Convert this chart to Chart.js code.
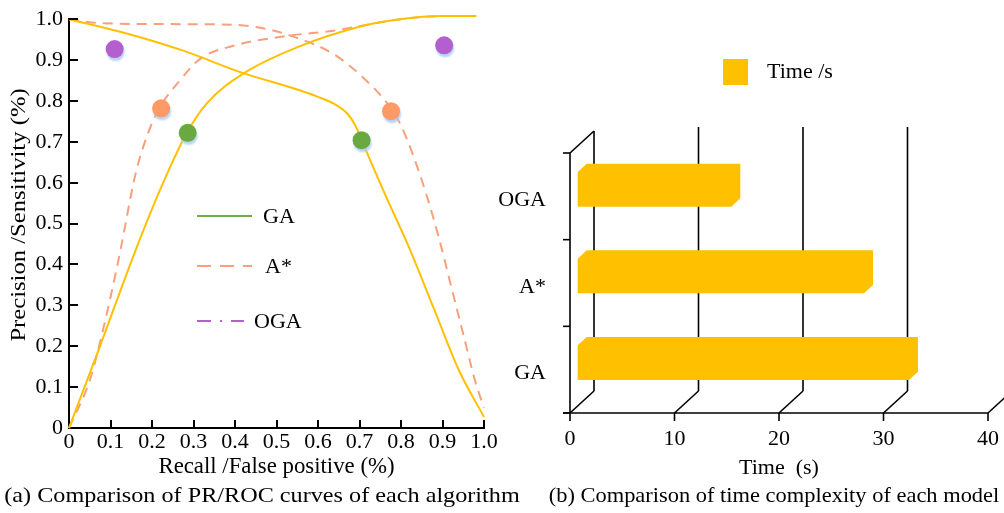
<!DOCTYPE html>
<html><head><meta charset="utf-8">
<script src="https://cdn.jsdelivr.net/npm/chart.js@4/dist/chart.umd.min.js"></script>
<style>
html,body{margin:0;padding:0;background:#fff;width:1004px;height:513px;overflow:hidden;position:relative;}
#c1{position:absolute;left:0;top:0;}
#c2{position:absolute;left:480px;top:0;}
</style></head><body>
<canvas id="c1" width="530" height="513"></canvas>
<canvas id="c2" width="534" height="513"></canvas>
<script>
// ---------- data: left chart (PR / ROC curves) ----------
const gaPrX  = [0, 0.15, 0.275, 0.42, 0.55, 0.6, 0.64, 0.67, 0.69, 0.705, 0.73, 0.76, 0.82, 0.88, 0.94, 1.0];
const gaPrY  = [1.0, 0.962, 0.923, 0.868, 0.828, 0.81, 0.792, 0.77, 0.74, 0.705, 0.645, 0.575, 0.44, 0.29, 0.14, 0.027];
const gaRocX = [0, 0.071, 0.159, 0.227, 0.284, 0.332, 0.42, 0.549, 0.709, 0.798, 0.894, 0.982];
const gaRocY = [0, 0.19, 0.431, 0.60, 0.722, 0.794, 0.867, 0.931, 0.984, 1.0, 1.008, 1.008];
const aPrX   = [0, 0.08, 0.25, 0.4, 0.476, 0.533, 0.637, 0.716, 0.773, 0.8, 0.83, 0.86, 0.89, 0.92, 0.95, 0.98, 1.0];
const aPrY   = [1.0, 0.99, 0.988, 0.986, 0.976, 0.96, 0.915, 0.85, 0.786, 0.74, 0.665, 0.575, 0.47, 0.35, 0.23, 0.11, 0.05];
const aRocX  = [0, 0.05, 0.07, 0.1, 0.125, 0.16, 0.19, 0.22, 0.267, 0.316, 0.396, 0.533, 0.637, 0.716, 0.798, 0.918, 0.982];
const aRocY  = [0, 0.116, 0.19, 0.32, 0.44, 0.62, 0.72, 0.786, 0.85, 0.903, 0.935, 0.96, 0.972, 0.986, 1.0, 1.008, 1.008];
const gaMarkX  = [0.286, 0.705];
const gaMarkY  = [0.722, 0.704];
const aMarkX   = [0.222, 0.776];
const aMarkY   = [0.782, 0.775];
const ogaMarkX = [0.110, 0.904];
const ogaMarkY = [0.927, 0.936];
const leftLegend = ['GA', 'A*', 'OGA'];
const prTicks = [0, 0.1, 0.2, 0.3, 0.4, 0.5, 0.6, 0.7, 0.8, 0.9, 1.0];

// ---------- data: right chart (time) ----------
const models = ['OGA', 'A*', 'GA'];
const timeSeconds = [14.7, 27.4, 31.7];
const timeTicks = [0, 10, 20, 30, 40];
const timeLegend = 'Time /s';

const FAMILY = "'Liberation Serif', 'Times New Roman', serif";
const FS = 22;
Chart.defaults.font.family = FAMILY;
Chart.defaults.font.size = FS;
Chart.defaults.color = '#000';

const zip = (xs, ys) => xs.map((x, i) => ({x, y: ys[i]}));
const tickLabel = v => (v === 0 ? '0' : v.toFixed(1));

const GOLD = '#FFC000', SALMON = '#F7A07C';
const lineDs = (data, dashed) => ({
  data, showLine: true, borderColor: dashed ? SALMON : GOLD,
  borderWidth: 2, borderDash: dashed ? [10, 7] : [], pointRadius: 0,
  cubicInterpolationMode: 'monotone', clip: 12, isCurve: true
});
const markDs = (label, data, color) => ({
  label, data, showLine: false, pointRadius: 9, pointHoverRadius: 9,
  backgroundColor: color, borderWidth: 0, isMarker: true
});

function stretchedText(ctx, text, x, y, sx, rot) {
  ctx.save();
  ctx.translate(x, y);
  if (rot) ctx.rotate(rot);
  ctx.scale(sx, 1);
  ctx.textAlign = 'center'; ctx.textBaseline = 'middle';
  ctx.fillText(text, 0, 0);
  ctx.restore();
}

const leftPlugin = {
  id: 'leftDeco',
  beforeDatasetDraw(chart, args) {
    const ds = chart.data.datasets[args.index];
    if (ds.isMarker) {
      const ctx = chart.ctx;
      ctx.shadowColor = 'rgba(170,205,240,0.85)';
      ctx.shadowOffsetX = 1; ctx.shadowOffsetY = 3; ctx.shadowBlur = 2;
    }
  },
  afterDatasetDraw(chart) {
    const ctx = chart.ctx;
    ctx.shadowColor = 'rgba(0,0,0,0)';
    ctx.shadowOffsetX = 0; ctx.shadowOffsetY = 0; ctx.shadowBlur = 0;
  },
  afterDraw(chart) {
    const ctx = chart.ctx, xs = chart.scales.x, ys = chart.scales.y, ca = chart.chartArea;
    ctx.save();
    ctx.strokeStyle = '#000'; ctx.lineWidth = 2;
    xs.ticks.forEach(t => {
      if (t.value === 0) return;
      const px = Math.round(xs.getPixelForValue(t.value));
      ctx.beginPath(); ctx.moveTo(px, ca.bottom); ctx.lineTo(px, ca.bottom - 8); ctx.stroke();
    });
    ys.ticks.forEach(t => {
      if (t.value === 0) return;
      const py = Math.round(ys.getPixelForValue(t.value));
      ctx.beginPath(); ctx.moveTo(ca.left, py); ctx.lineTo(ca.left + 9, py); ctx.stroke();
    });
    ctx.fillStyle = '#000';
    ctx.font = FS + 'px ' + FAMILY;
    // y-axis title
    stretchedText(ctx, 'Precision /Sensitivity (%)', 19, 215, 1.12, -Math.PI / 2);
    // legend
    const styles = [
      {color: '#70AD47', dash: [], x0: 197, x1: 252, y: 216, tx: 263},
      {color: SALMON, dash: [14, 9], x0: 197, x1: 252, y: 266, tx: 265},
      {color: '#B660CD', dash: [14, 9, 2, 9], x0: 197, x1: 244, y: 321, tx: 254}
    ];
    leftLegend.forEach((lab, i) => {
      const s = styles[i];
      ctx.strokeStyle = s.color; ctx.lineWidth = 2; ctx.setLineDash(s.dash);
      ctx.beginPath(); ctx.moveTo(s.x0, s.y); ctx.lineTo(s.x1, s.y); ctx.stroke();
      ctx.setLineDash([]);
      ctx.textAlign = 'left'; ctx.textBaseline = 'middle';
      ctx.fillText(lab, s.tx, s.y + 1);
    });
    // caption
    stretchedText(ctx, '(a) Comparison of PR/ROC curves of each algorithm', 262, 496, 1.10, 0);
    ctx.restore();
  }
};

new Chart(document.getElementById('c1'), {
  type: 'scatter',
  data: {
    datasets: [
      markDs(leftLegend[0], zip(gaMarkX, gaMarkY), '#6AA842'),
      markDs(leftLegend[1], zip(aMarkX, aMarkY), '#FF9966'),
      markDs(leftLegend[2], zip(ogaMarkX, ogaMarkY), '#B45FCF'),
      lineDs(zip(gaPrX, gaPrY), false),
      lineDs(zip(gaRocX, gaRocY), false),
      lineDs(zip(aPrX, aPrY), true),
      lineDs(zip(aRocX, aRocY), true)
    ]
  },
  options: {
    responsive: false, animation: false, events: [],
    layout: {padding: {left: 0, top: 15, right: 46, bottom: 0}},
    plugins: {legend: {display: false}, tooltip: {enabled: false}},
    scales: {
      x: {
        type: 'linear', min: 0, max: 1,
        afterBuildTicks: s => { s.ticks = prTicks.map(v => ({value: v})); },
        ticks: {callback: tickLabel, padding: 1, maxRotation: 0, autoSkip: false},
        grid: {color: 'rgba(0,0,0,0)', drawTicks: false},
        border: {color: '#000', width: 2},
        title: {display: true, text: 'Recall /False positive (%)', font: {size: 22.8}, padding: {top: 0, bottom: 32}},
        afterFit: s => { s.height = 85; }
      },
      y: {
        type: 'linear', min: 0, max: 1,
        afterBuildTicks: s => { s.ticks = prTicks.map(v => ({value: v})); },
        ticks: {callback: tickLabel, padding: 6, autoSkip: false},
        grid: {color: 'rgba(0,0,0,0)', drawTicks: false},
        border: {color: '#000', width: 2},
        afterFit: s => { s.width = 69; }
      }
    }
  },
  plugins: [leftPlugin]
});

// ---------- right chart ----------
const DX = 24, DY = -22;       // wall depth
const OX = 7.7, OY = -7;       // bar plane offset
const BX = 9, BY = -8.3;       // bar thickness
const rightPlugin = {
  id: 'rightDeco',
  beforeDatasetsDraw(chart) {
    const ctx = chart.ctx, xs = chart.scales.x, ys = chart.scales.y, ca = chart.chartArea;
    ctx.save();
    ctx.strokeStyle = '#000'; ctx.lineWidth = 1.6; ctx.lineCap = 'butt';
    const ln = (a, b, c, d) => { ctx.beginPath(); ctx.moveTo(a, b); ctx.lineTo(c, d); ctx.stroke(); };
    ln(ca.left - 7, ca.bottom, xs.getPixelForValue(xs.max), ca.bottom);
    xs.ticks.forEach(t => {
      const px = xs.getPixelForValue(t.value);
      ln(px, ca.bottom, px, ca.bottom + 8);
      ln(px, ca.bottom, px + DX, ca.bottom + DY);
      ln(px + DX, ca.bottom + DY, px + DX, ca.top + DY - (t.value === 0 ? 0 : 4));
    });
    ln(ca.left, ca.top, ca.left, ca.bottom);
    ln(ca.left, ca.top, ca.left + DX, ca.top + DY);
    for (let i = 0; i <= chart.data.labels.length; i++) {
      const py = ys.getPixelForValue(i - 0.5);
      ln(ca.left - 7, py, ca.left, py);
    }
    ctx.restore();
  },
  beforeDatasetDraw(chart, args) {
    const ctx = chart.ctx;
    const ds = chart.data.datasets[args.index];
    ctx.save();
    ctx.fillStyle = ds.backgroundColor;
    args.meta.data.forEach(bar => {
      const p = bar.getProps(['x', 'y', 'base', 'height'], true);
      const L = p.base + OX, R = p.x + OX, T = p.y - p.height / 2 + OY, B = p.y + p.height / 2 + OY;
      ctx.beginPath();
      ctx.moveTo(L, T); ctx.lineTo(L + BX, T + BY); ctx.lineTo(R + BX, T + BY);
      ctx.lineTo(R + BX, B + BY); ctx.lineTo(R, B); ctx.lineTo(L, B); ctx.closePath();
      ctx.fill();
    });
    ctx.restore();
    return false;
  },
  afterDraw(chart) {
    const ctx = chart.ctx;
    const ds = chart.data.datasets[0];
    ctx.save();
    ctx.fillStyle = ds.backgroundColor;
    ctx.fillRect(243, 59, 25, 26);
    ctx.fillStyle = '#000';
    ctx.font = FS + 'px ' + FAMILY;
    ctx.textAlign = 'left'; ctx.textBaseline = 'middle';
    ctx.fillText(ds.label, 287, 72);
    stretchedText(ctx, '(b) Comparison of time complexity of each model', 294, 496, 1.02, 0);
    ctx.restore();
  }
};

new Chart(document.getElementById('c2'), {
  type: 'bar',
  data: {
    labels: models,
    datasets: [{label: timeLegend, data: timeSeconds, backgroundColor: GOLD,
      categoryPercentage: 1, barPercentage: 0.4}]
  },
  options: {
    indexAxis: 'y', responsive: false, animation: false, events: [],
    layout: {padding: {left: 0, top: 153, right: 26, bottom: 0}},
    plugins: {legend: {display: false}, tooltip: {enabled: false}},
    scales: {
      x: {
        type: 'linear', min: 0, max: 40,
        afterBuildTicks: s => { s.ticks = timeTicks.map(v => ({value: v})); },
        ticks: {padding: 13, maxRotation: 0, autoSkip: false},
        grid: {display: false, drawTicks: false},
        border: {display: false},
        title: {display: true, text: 'Time  (s)', padding: {top: 0, bottom: 32}},
        afterFit: s => { s.height = 100; }
      },
      y: {
        ticks: {padding: 24, labelOffset: 4},
        grid: {display: false, drawTicks: false},
        border: {display: false},
        afterFit: s => { s.width = 90; }
      }
    }
  },
  plugins: [rightPlugin]
});
</script>
</body></html>
